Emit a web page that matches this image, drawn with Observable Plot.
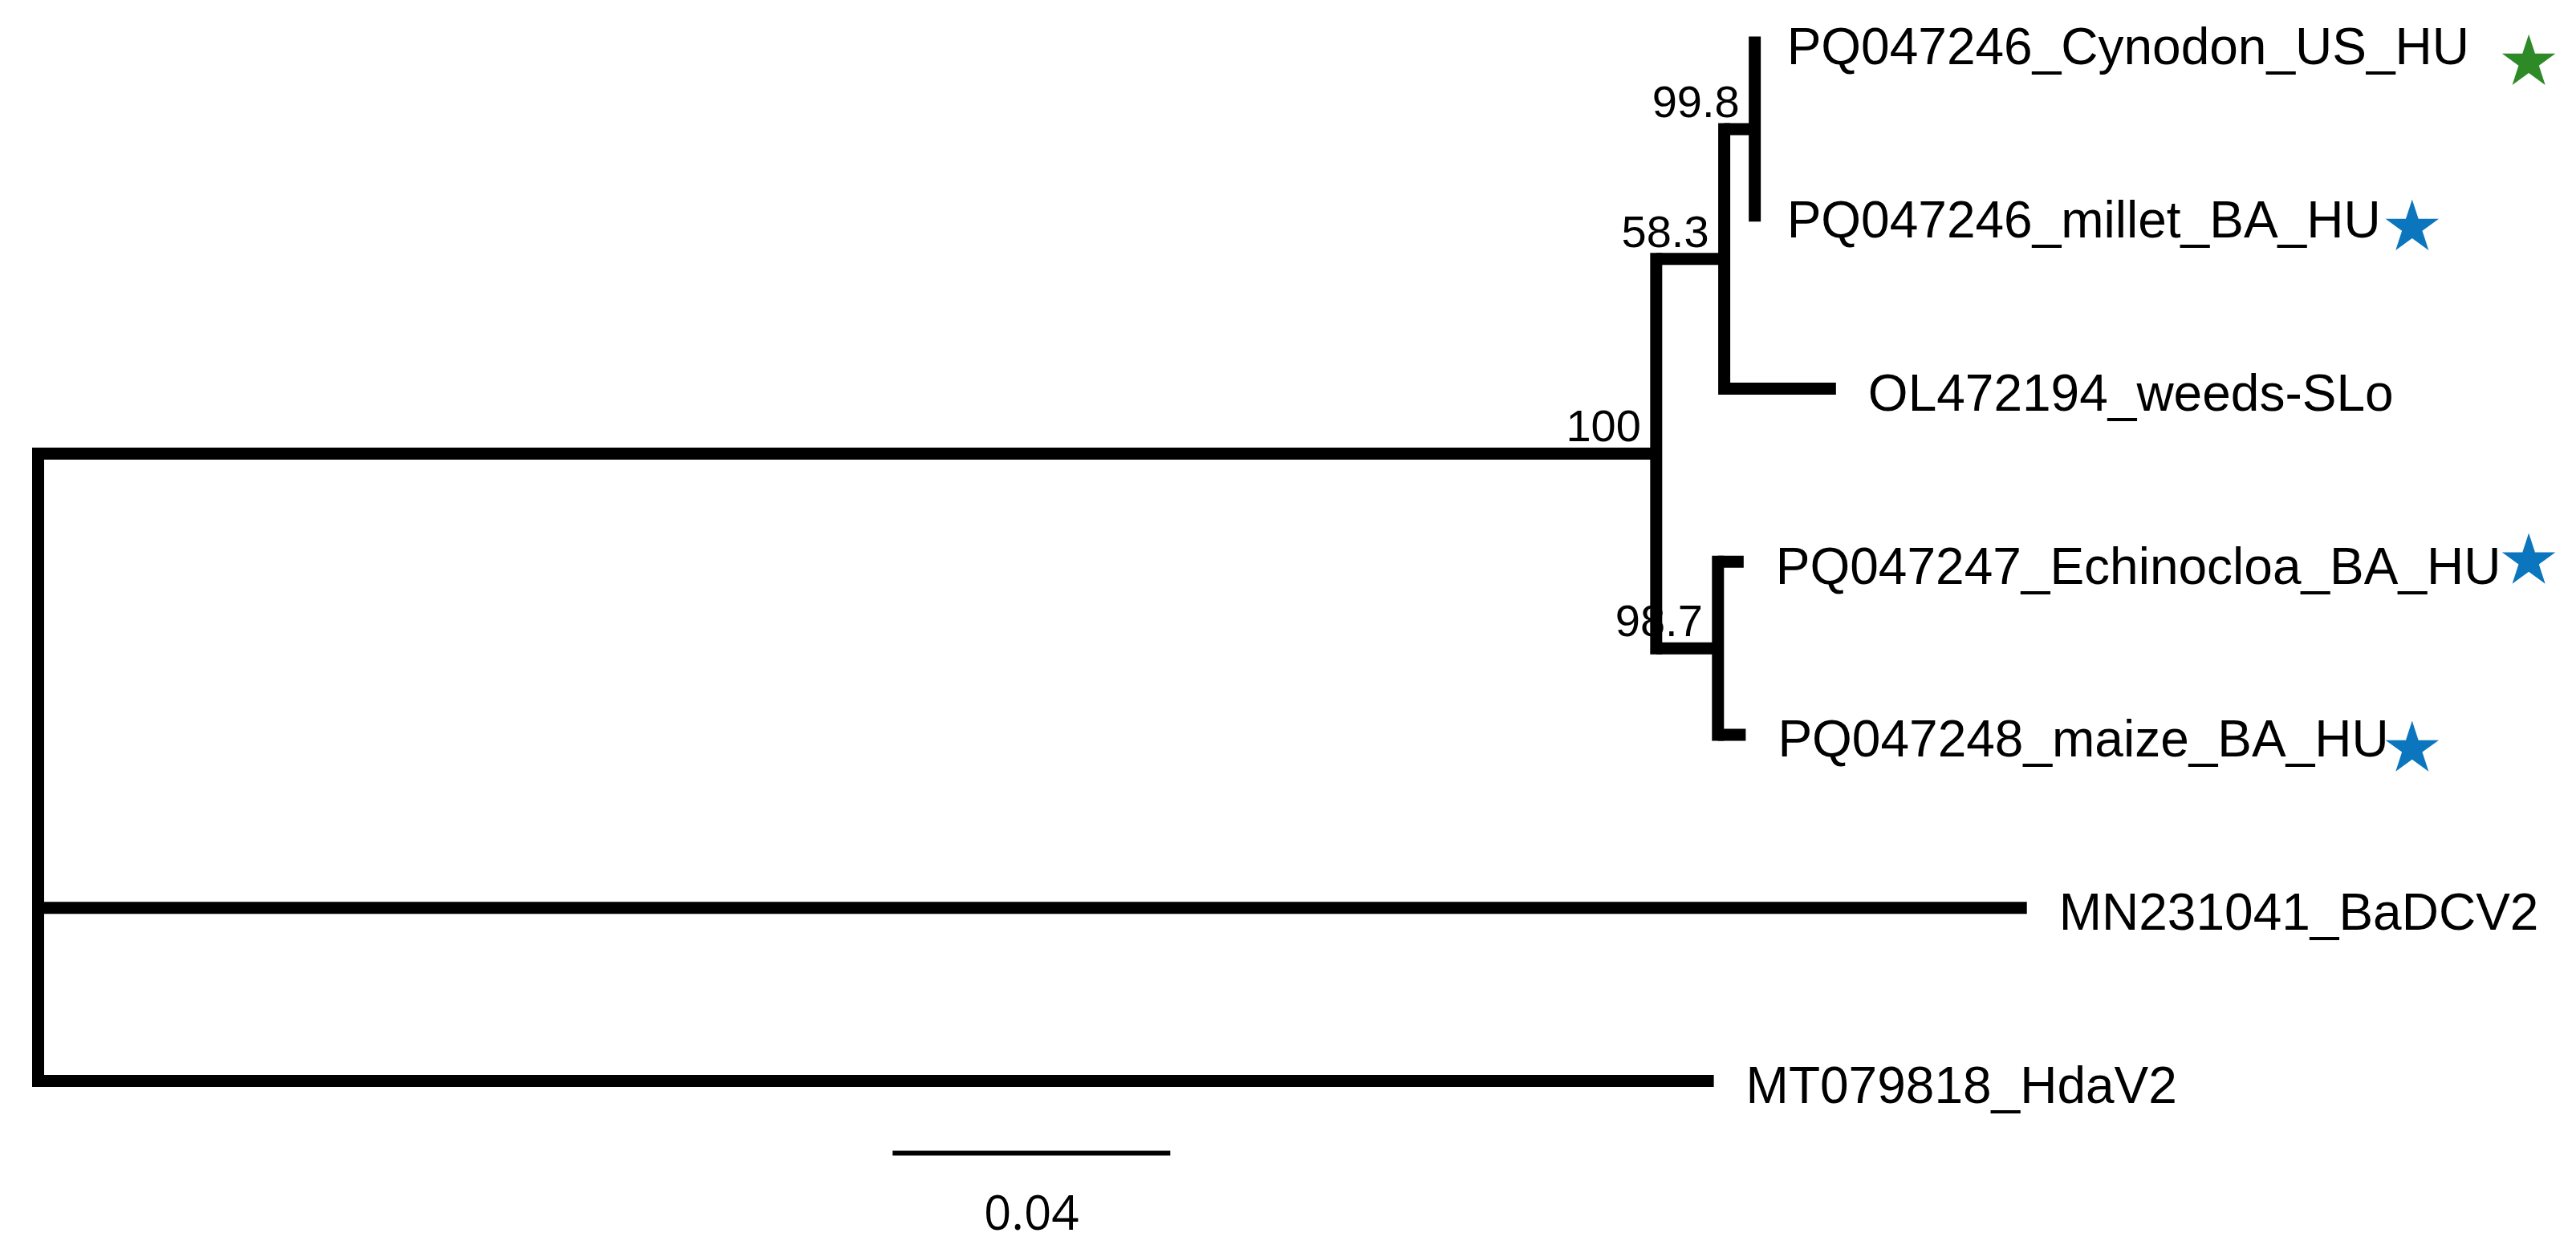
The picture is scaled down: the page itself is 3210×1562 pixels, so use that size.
<!DOCTYPE html>
<html>
<head>
<meta charset="utf-8">
<script src="https://cdn.jsdelivr.net/npm/d3@7"></script>
<script src="https://cdn.jsdelivr.net/npm/@observablehq/plot@0.6"></script>
<style>
  html, body { margin: 0; padding: 0; background: #fff; }
  #chart svg { display: block; }
</style>
</head>
<body>
<div id="chart"></div>
<script>
// Tree topology, branch lengths (subst./site) and bootstrap support
const nodeIds  = ["root", "n100", "n583", "n998", "cyn", "millet", "weeds", "n987", "echino", "maize", "badcv2", "hdav2"];
const parents  = [null,   "root", "n100", "n583", "n998", "n998",  "n583",  "n100", "n987",   "n987",  "root",   "root"];
const lengths  = [0,      0.2331, 0.0098, 0.0044, 0,      0,       0.0161,  0.0089, 0.0037,   0.0040,  0.2865,   0.2414];
const supports = [null,   "100",  "58.3", "99.8", null,   null,    null,    "98.7", null,     null,    null,     null];
const taxa = {
  cyn: "PQ047246_Cynodon_US_HU",
  millet: "PQ047246_millet_BA_HU",
  weeds: "OL472194_weeds-SLo",
  echino: "PQ047247_Echinocloa_BA_HU",
  maize: "PQ047248_maize_BA_HU",
  badcv2: "MN231041_BaDCV2",
  hdav2: "MT079818_HdaV2"
};

// Star markers next to the isolate names (x in branch-length units, y in row units)
const starTaxa   = ["cyn",     "millet",  "echino",  "maize"];
const starX      = [0.3588,    0.3420,    0.3588,    0.3420];
const starY      = [0.114,     1.069,     2.996,     4.081];
const starColors = ["#2e8a27", "#0b76bd", "#0b76bd", "#0b76bd"];

// Scale bar
const scaleLength = 0.04;
const scaleStart = 0.1231;
const scaleRow = 6.417;

// ---------- layout: x = cumulative branch length, y = leaf order ----------
const nodes = nodeIds.map((id, i) => ({id, parent: parents[i], length: lengths[i], support: supports[i]}));
const byId = new Map(nodes.map(n => [n.id, n]));
nodes.forEach(n => n.children = nodes.filter(c => c.parent === n.id));
let leafRow = 0;
(function place(n, x0) {
  n.x = x0 + n.length;
  n.children.forEach(c => place(c, n.x));
  if (n.children.length) {
    n.y = (n.children[0].y + n.children[n.children.length - 1].y) / 2;
  } else {
    n.y = leafRow++;
  }
})(byId.get("root"), 0);

const horizontals = nodes.filter(n => n.parent).map(n => ({x1: byId.get(n.parent).x, x2: n.x, y: n.y}));
const verticals = nodes.filter(n => n.children.length).map(n => ({
  x: n.x, y1: n.children[0].y, y2: n.children[n.children.length - 1].y
}));
const leaves = nodes.filter(n => !n.children.length);
const supported = nodes.filter(n => n.support);
const stars = starTaxa.map((t, i) => ({taxon: t, x: starX[i], y: starY[i], color: starColors[i]}));
const scaleBar = [{x1: scaleStart, x2: scaleStart + scaleLength, y: scaleRow, label: String(scaleLength)}];

const sans = "'Liberation Sans', Arial, Helvetica, sans-serif";

const chart = Plot.plot({
  width: 3210, height: 1562,
  marginTop: 0, marginRight: 0, marginBottom: 0, marginLeft: 0,
  x: {axis: null, domain: [0, 0.35], range: [47, 3074.5]},
  y: {axis: null, domain: [0, 6], range: [52.5, 1347]},
  color: {type: "identity"},
  marks: [
    // horizontal branches
    Plot.link(horizontals, {
      x1: "x1", x2: "x2", y1: "y", y2: "y",
      stroke: "black", strokeWidth: 15, strokeLinecap: "butt"
    }),
    // vertical connectors
    Plot.link(verticals, {
      x1: "x", x2: "x", y1: "y1", y2: "y2",
      stroke: "black", strokeWidth: 15, strokeLinecap: "square"
    }),
    // tip labels
    Plot.text(leaves, {
      x: "x", y: "y", text: d => taxa[d.id],
      textAnchor: "start", dx: 40, dy: 7,
      fontSize: 64, fontFamily: sans, fill: "black"
    }),
    // bootstrap values
    Plot.text(supported, {
      x: "x", y: "y", text: "support",
      textAnchor: "end", dx: -19, dy: -33,
      fontSize: 56, fontFamily: sans, fill: "black"
    }),
    // markers
    Plot.dot(stars, {
      x: "x", y: "y", symbol: "star", r: 20.9, fill: "color", stroke: null
    }),
    // scale bar
    Plot.link(scaleBar, {
      x1: "x1", x2: "x2", y1: "y", y2: "y",
      stroke: "black", strokeWidth: 6
    }),
    Plot.text(scaleBar, {
      x: d => (d.x1 + d.x2) / 2, y: "y", text: "label",
      dy: 76, fontSize: 60, fontFamily: "'Open Sans', sans-serif", fill: "black"
    })
  ]
});
document.getElementById("chart").appendChild(chart);
</script>
</body>
</html>
